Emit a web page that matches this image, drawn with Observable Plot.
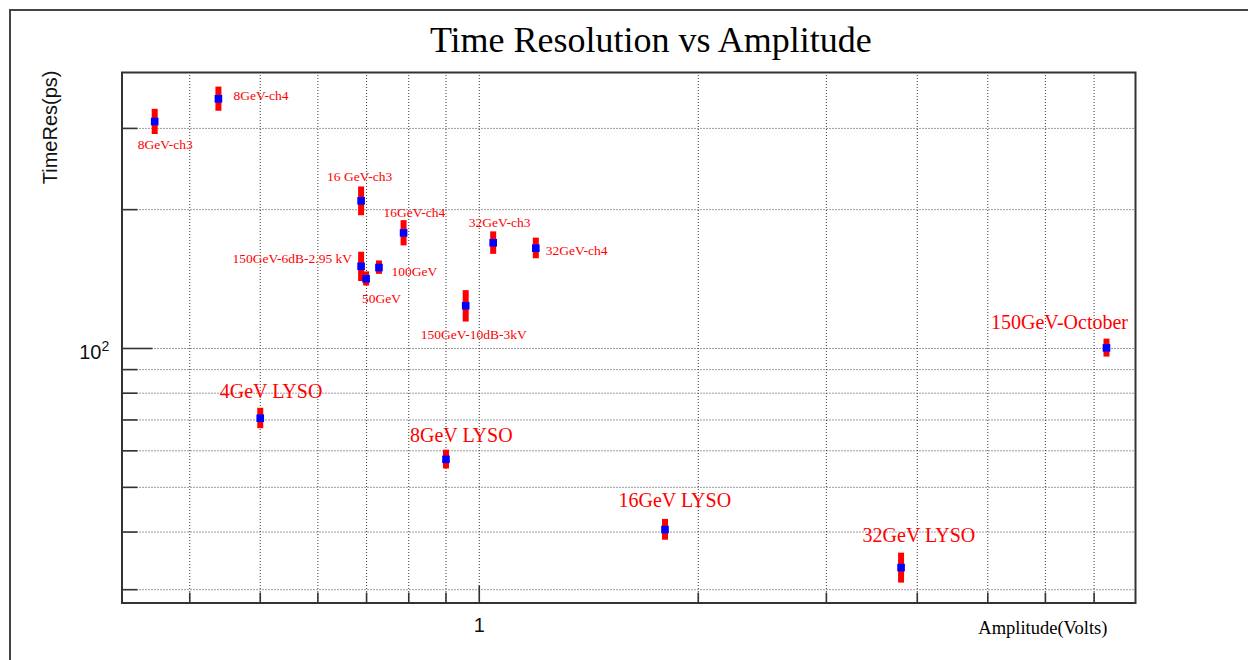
<!DOCTYPE html>
<html>
<head>
<meta charset="utf-8">
<script src="https://cdn.jsdelivr.net/npm/d3@7"></script>
<script src="https://cdn.jsdelivr.net/npm/@observablehq/plot@0.6"></script>
<style>
  html, body { margin: 0; padding: 0; background: #fff; }
  #canvas { position: relative; width: 1248px; height: 660px; overflow: hidden; }
  #canvas .edge {
    position: absolute; left: 9px; top: 9px; width: 1400px; height: 800px;
    border-top: 2px solid #444; border-left: 2px solid #444; pointer-events: none;
  }
  #canvas svg { position: absolute; left: 0; top: 0; }
</style>
</head>
<body>
<div id="canvas"><div class="edge"></div></div>
<script>
// Measurement runs: name, mean pulse amplitude (V), time resolution (ps) and its uncertainty
const runNames = [
  "8GeV-ch3", "8GeV-ch4", "16 GeV-ch3", "16GeV-ch4", "32GeV-ch3", "32GeV-ch4",
  "150GeV-6dB-2.95 kV", "50GeV", "100GeV", "150GeV-10dB-3kV",
  "4GeV LYSO", "8GeV LYSO", "16GeV LYSO", "32GeV LYSO", "150GeV-October"
];
const amplitude = [
  0.358, 0.438, 0.688, 0.787, 1.045, 1.196,
  0.688, 0.699, 0.728, 0.958,
  0.50, 0.90, 1.80, 3.80, 7.28
];
const timeRes = [
  310.5, 347.8, 209.0, 178.1, 169.5, 165.0,
  150.7, 141.6, 149.8, 123.8,
  70.6, 57.5, 40.5, 33.5, 100.3
];
const timeResErr = [
  19.5, 21.0, 15.0, 11.2, 9.5, 8.5,
  11.0, 5.0, 5.0, 9.7,
  3.6, 2.7, 2.1, 2.5, 4.5
];

// Axis ticks
const xTickValues = [0.4, 0.5, 0.6, 0.7, 0.8, 0.9, 1, 2, 3, 4, 5, 6, 7];
const xLabeledTick = 1;
const yTickValues = [30, 40, 50, 60, 70, 80, 90, 100, 200, 300];
const yLabeledTick = 100;

const runs = runNames.map((name, i) => ({
  name, amp: amplitude[i], t: timeRes[i], err: timeResErr[i]
}));

// Label placement relative to each point (pixels) and the runs drawn with large labels
const labelShift = [
  [-17, 23.5], [15, -3], [-34, -24], [-20, -20], [-24.5, -20.5], [10, 2],
  [-128.5, -8], [-4, 20], [12.5, 4], [-45, 29],
  [-40.5, -26.5], [-36, -23.5], [-46.5, -28.5], [-38.5, -31.5], [-115.5, -25]
];
const largeLabel = new Set(["4GeV LYSO", "8GeV LYSO", "16GeV LYSO", "32GeV LYSO", "150GeV-October"]);

const W = 1248, H = 660;
const mTop = 72, mRight = 113, mBottom = 57.5, mLeft = 121.5;
const frameW = W - mLeft - mRight;
const frameH = H - mTop - mBottom;

const serif = "'Liberation Serif', 'Times New Roman', serif";
const sans = "'Liberation Sans', Arial, Helvetica, sans-serif";
const axisInk = "#333";
const gridInk = "#3a3a3a";

const labelMarks = runs.map((d, i) => Plot.text([d], {
  x: "amp", y: "t", text: "name",
  dx: labelShift[i][0], dy: labelShift[i][1],
  textAnchor: "start", lineAnchor: "middle",
  fontFamily: serif,
  fontSize: largeLabel.has(d.name) ? 20 : 13.5,
  fill: "#ff0000"
}));

const chart = Plot.plot({
  width: W, height: H,
  marginTop: mTop, marginRight: mRight, marginBottom: mBottom, marginLeft: mLeft,
  style: { background: "transparent", fontFamily: sans, overflow: "visible" },
  x: { type: "log", domain: [0.3228, 7.98], axis: null },
  y: { type: "log", domain: [28.07, 396.6], axis: null },
  marks: [
    // dotted grid
    Plot.ruleX(xTickValues, { x: d => d, stroke: gridInk, strokeWidth: 1, strokeDasharray: "1,2" }),
    Plot.ruleY(yTickValues, { y: d => d, stroke: gridInk, strokeWidth: 1, strokeDasharray: "1,2" }),

    // inward ticks
    Plot.tickX(xTickValues.filter(v => v !== xLabeledTick), { x: d => d, insetTop: frameH - 10, stroke: axisInk, strokeWidth: 1.6 }),
    Plot.tickX([xLabeledTick], { x: d => d, insetTop: frameH - 17, stroke: axisInk, strokeWidth: 1.6 }),
    Plot.tickY(yTickValues.filter(v => v !== yLabeledTick), { y: d => d, insetRight: frameW - 16, stroke: axisInk, strokeWidth: 1.6 }),
    Plot.tickY([yLabeledTick], { y: d => d, insetRight: frameW - 31, stroke: axisInk, strokeWidth: 1.6 }),

    Plot.frame({ stroke: axisInk, strokeWidth: 2 }),

    // tick labels
    Plot.text([xLabeledTick], { x: d => d, frameAnchor: "bottom", dy: 22.5, text: d => String(d),
      textAnchor: "middle", lineAnchor: "middle", fontSize: 20, fontFamily: sans, fill: "#111" }),
    Plot.text([yLabeledTick], { y: d => d, frameAnchor: "left", dx: -20.5, dy: 3.6, text: () => "10",
      textAnchor: "end", lineAnchor: "middle", fontSize: 20, fontFamily: sans, fill: "#111" }),
    Plot.text([yLabeledTick], { y: d => d, frameAnchor: "left", dx: -20.5, dy: -1.6, text: d => String(Math.round(Math.log10(d))),
      textAnchor: "start", lineAnchor: "middle", fontSize: 14, fontFamily: sans, fill: "#111" }),

    // axis titles and chart title
    Plot.text(["TimeRes(ps)"], { frameAnchor: "top-left", dx: -71.5, dy: -2, rotate: -90,
      textAnchor: "end", lineAnchor: "middle", fontSize: 20, fontFamily: sans, fill: "#111" }),
    Plot.text(["Amplitude(Volts)"], { frameAnchor: "bottom-right", dx: -28, dy: 25.5,
      textAnchor: "end", lineAnchor: "middle", fontSize: 18.5, fontFamily: serif, fill: "#000" }),
    Plot.text(["Time Resolution vs Amplitude"], { frameAnchor: "top", dx: 22, dy: -31.7,
      textAnchor: "middle", lineAnchor: "middle", fontSize: 36, fontFamily: serif, fill: "#000" }),

    // error bars and markers
    Plot.ruleX(runs, { x: "amp", y1: d => d.t - d.err, y2: d => d.t + d.err, stroke: "#ff0000", strokeWidth: 6 }),
    Plot.dot(runs, { x: "amp", y: "t", symbol: "square", r: 4.3, fill: "#0000ff", stroke: null }),

    ...labelMarks
  ]
});

document.getElementById("canvas").appendChild(chart);
</script>
</body>
</html>
